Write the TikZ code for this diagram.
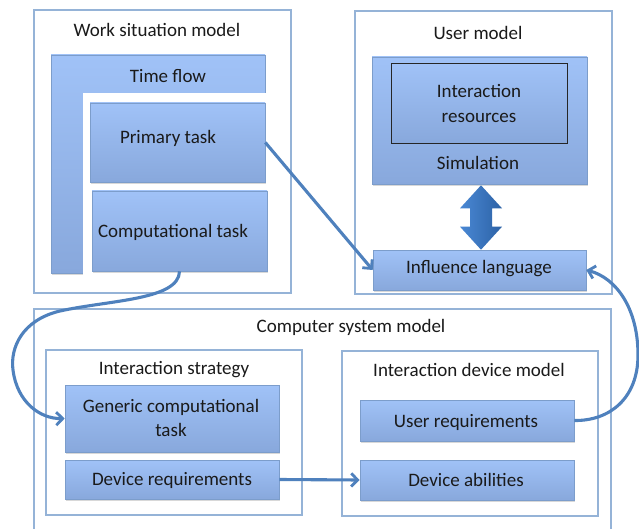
\documentclass[tikz,border=0pt]{standalone}
\usepackage{fontspec}
\setmainfont{Carlito}
\usetikzlibrary{arrows.meta,shadows,calc}

\definecolor{frameblue}{HTML}{95B3D7}
\definecolor{boxtop}{HTML}{A0C2F7}
\definecolor{boxbot}{HTML}{88A8DC}
\definecolor{boxedge}{HTML}{7C9DCB}
\definecolor{linkblue}{HTML}{4F81BD}
\definecolor{inklight}{HTML}{4A88D4}
\definecolor{inkdark}{HTML}{2C62A6}
\definecolor{txt}{HTML}{1A1A1A}

\tikzset{
  frame/.style={draw=frameblue, line width=1.2pt, fill=white, inner sep=0pt},
  bluebox/.style={draw=boxedge, line width=0.6pt, top color=boxtop, bottom color=boxbot,
    inner sep=0pt, drop shadow={shadow xshift=1.2pt, shadow yshift=-1.6pt, opacity=0.3, fill=gray}},
  innerbox/.style={draw=black!85, line width=0.9pt, top color=boxtop, bottom color=boxbot, inner sep=0pt},
  lbl/.style={text=txt, font=\fontsize{19}{23}\selectfont, inner sep=0pt, align=center},
  link/.style={draw=linkblue, line width=3.1pt, -{Straight Barb[length=6.5pt,width=13pt,line width=2.8pt]}},
}

\begin{document}
\begin{tikzpicture}[x=1pt,y=-1pt]
\useasboundingbox (0,0) rectangle (639,529);

% ---- Work situation model ----
\node[frame, minimum width=257pt, minimum height=283pt] (wsm) at (162.5,151.5) {};
\node[lbl] (wsmt) at (157,30) {Work situation model};
\node[bluebox, minimum width=214pt, minimum height=218pt] (tflow) at (158,164) {};
\fill[white] (83,93) rectangle (269,277);
\node[lbl] (tflowt) at (168,76) {Time flow};
\node[bluebox, minimum width=175pt, minimum height=79pt] (prim) at (177.5,142.5) {};
\node[lbl] (primt) at (168,138) {Primary task};
\node[bluebox, minimum width=175pt, minimum height=80pt] (comp) at (179.5,231) {};
\node[lbl] (compt) at (173,232) {Computational task};

% ---- User model ----
\node[frame, minimum width=257pt, minimum height=283pt] (um) at (483.5,152.5) {};
\node[lbl] (umt) at (478,33) {User model};
\node[bluebox, minimum width=215pt, minimum height=127pt] (sim) at (479.5,120.5) {};
\node[innerbox, minimum width=176pt, minimum height=80pt] (ires) at (479,103) {};
\node[lbl] (irest) at (479,104) {Interaction\\[2pt]resources};
\node[lbl] (simt) at (478,163) {Simulation};
\node[bluebox, minimum width=213pt, minimum height=40pt] (infl) at (479.5,270) {};
\node[lbl] (inflt) at (479,269) {Influence language};

% two-headed link between the simulation and the influence language
\shade[left color=inklight, right color=inkdark]
  ($(sim.south)+(1.5,1)$) -- ($(sim.south)+(22.5,24)$) -- ($(sim.south)+(12.5,24)$)
  -- ($(infl.north)+(12.5,-23)$) -- ($(infl.north)+(22.5,-23)$) -- ($(infl.north)+(1.5,0)$)
  -- ($(infl.north)+(-19.5,-23)$) -- ($(infl.north)+(-9.5,-23)$)
  -- ($(sim.south)+(-9.5,24)$) -- ($(sim.south)+(-19.5,24)$) -- cycle;

% ---- Computer system model ----
\node[frame, minimum width=577pt, minimum height=231pt] (csm) at (322.5,424.5) {};
\node[lbl] (csmt) at (351,327) {Computer system model};

\node[frame, minimum width=256pt, minimum height=165pt] (istr) at (174,432.5) {};
\node[lbl] (istrt) at (174,370) {Interaction strategy};
\node[bluebox, minimum width=214pt, minimum height=67pt] (gct) at (172,418.5) {};
\node[lbl] (gctt) at (171,418) {Generic computational\\[1pt]task};
\node[bluebox, minimum width=214pt, minimum height=39pt] (dreq) at (172,479.5) {};
\node[lbl] (dreqt) at (172,480) {Device requirements};

\node[frame, minimum width=256pt, minimum height=165pt] (idm) at (470,433.5) {};
\node[lbl] (idmt) at (469,370) {Interaction device model};
\node[bluebox, minimum width=214pt, minimum height=41pt] (ureq) at (467,420.5) {};
\node[lbl] (ureqt) at (466,422) {User requirements};
\node[bluebox, minimum width=214pt, minimum height=40pt] (dab) at (467,480) {};
\node[lbl] (dabt) at (466,480) {Device abilities};

% ---- links ----
\draw[link] (prim.east) -- (infl.west);
\draw[link] (dreq.east) -- (dab.west);
\draw[link] (comp.south) .. controls (179,300) and (110,300) .. (60,311)
  .. controls (22,320) and (10,348) .. (13,370)
  .. controls (17,402) and (40,419) .. (gct.west);
\draw[link] (ureq.east) .. controls (610,421) and (638,398) .. (638,355)
  .. controls (638,308) and (616,278) .. (infl.east);
\end{tikzpicture}
\end{document}
